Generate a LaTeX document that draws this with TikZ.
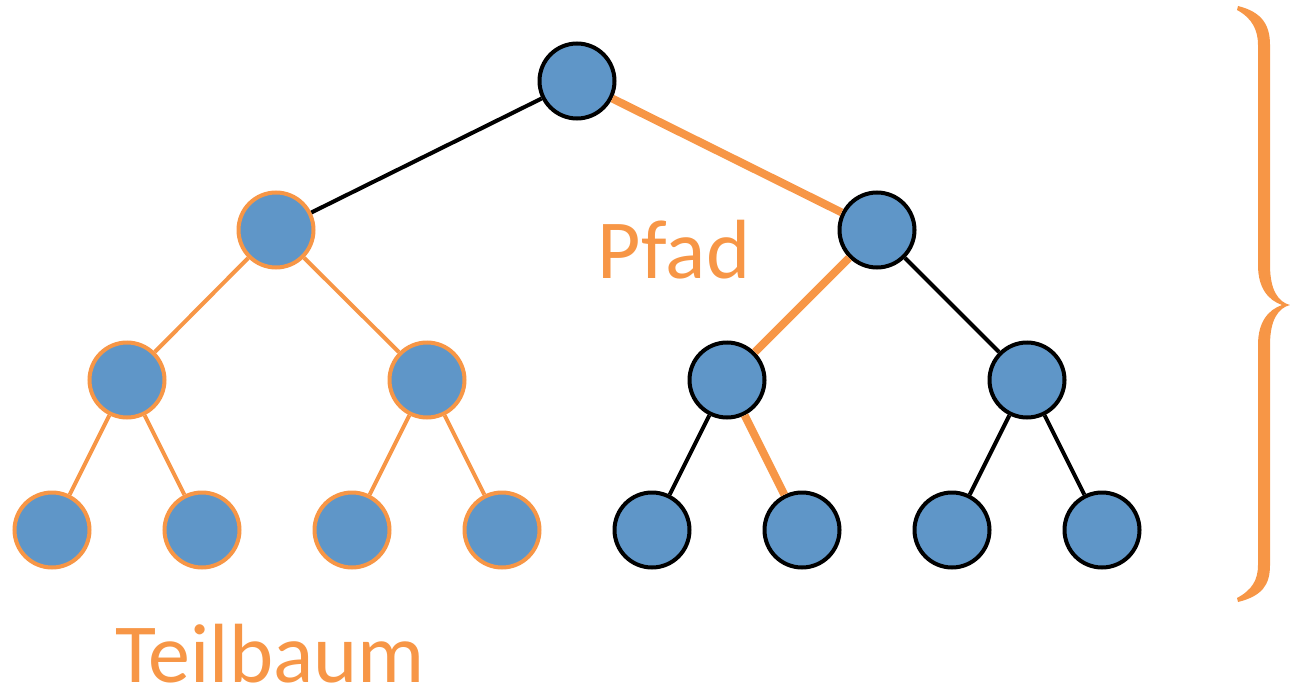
\documentclass[tikz,border=0pt]{standalone}
\usepackage{fontspec}
\setmainfont{Carlito}
\definecolor{nodeblue}{HTML}{5F96C8}
\definecolor{accent}{HTML}{F79646}
\begin{document}
\begin{tikzpicture}[x=1pt,y=-1pt,
  vertex/.style={circle,draw=black,fill=nodeblue,line width=4pt,minimum size=75pt,inner sep=0pt},
  subvertex/.style={vertex,draw=accent},
  plain/.style={draw=black,line width=4pt},
  subedge/.style={draw=accent,line width=4pt},
  pathedge/.style={draw=accent,line width=8pt},
  label/.style={text=accent,font=\fontsize{84}{88}\selectfont,anchor=base,inner sep=0pt}]
\useasboundingbox (0,0) rectangle (1290,698);

% tree nodes
\node[vertex] (r) at (577,81) {};
\node[subvertex] (a) at (276,230) {};
\node[vertex] (b) at (877,230) {};
\node[subvertex] (aa) at (127,380) {};
\node[subvertex] (ab) at (427,380) {};
\node[vertex] (ba) at (727,380) {};
\node[vertex] (bb) at (1027,380) {};
\node[subvertex] (aaa) at (52,530) {};
\node[subvertex] (aab) at (202,530) {};
\node[subvertex] (aba) at (352,530) {};
\node[subvertex] (abb) at (502,530) {};
\node[vertex] (baa) at (652,530) {};
\node[vertex] (bab) at (802,530) {};
\node[vertex] (bba) at (952,530) {};
\node[vertex] (bbb) at (1102,530) {};

% edges
\path[plain] (r) -- (a);
\path[pathedge] (r) -- (b);
\path[subedge] (a) -- (aa);
\path[subedge] (a) -- (ab);
\path[subedge] (aa) -- (aaa);
\path[subedge] (aa) -- (aab);
\path[subedge] (ab) -- (aba);
\path[subedge] (ab) -- (abb);
\path[pathedge] (b) -- (ba);
\path[plain] (b) -- (bb);
\path[plain] (ba) -- (baa);
\path[pathedge] (ba) -- (bab);
\path[plain] (bb) -- (bba);
\path[plain] (bb) -- (bbb);

% labels
\node[label] (pfad) at (674,278) {Pfad};
\node[label] (teil) at (270,682) {Teilbaum};

% curly brace on the right
\fill[accent] (1238,6) .. controls (1262,12) and (1270,25) .. (1270,45)
  -- (1270,265) .. controls (1270,290) and (1278,302) .. (1290,305)
  .. controls (1278,308) and (1270,320) .. (1270,345)
  -- (1270,565) .. controls (1270,585) and (1262,596) .. (1238,602)
  -- (1237,598) .. controls (1252,590) and (1258,580) .. (1258,565)
  -- (1258,345) .. controls (1258,322) and (1268,310) .. (1282,305)
  .. controls (1268,300) and (1258,288) .. (1258,265)
  -- (1258,45) .. controls (1258,30) and (1252,18) .. (1237,10) -- cycle;
\end{tikzpicture}
\end{document}
